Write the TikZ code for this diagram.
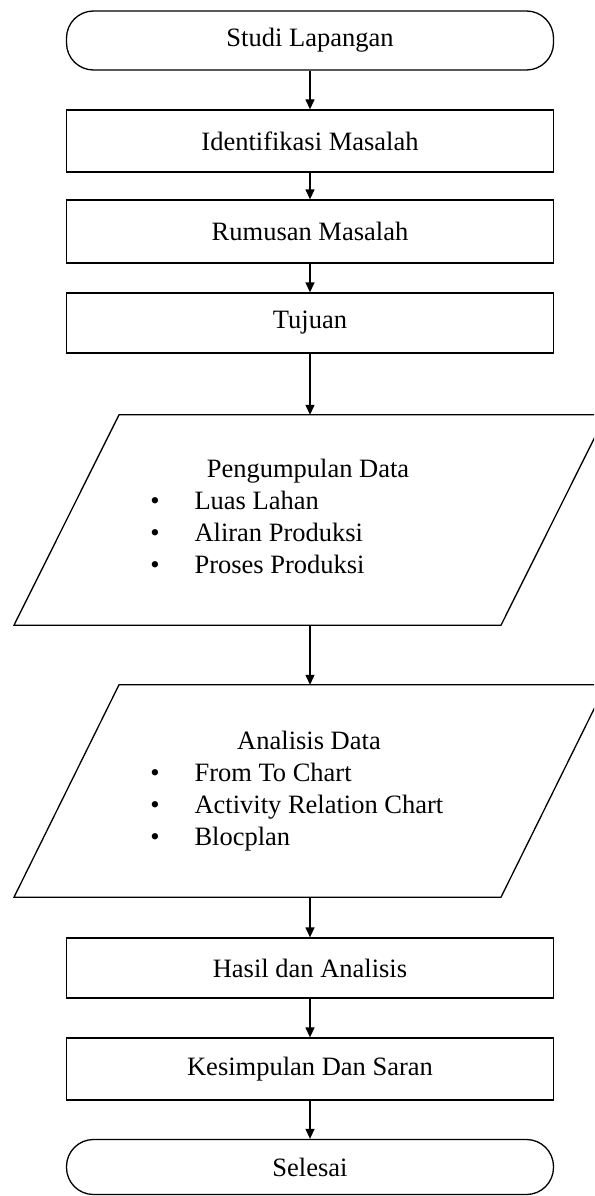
\documentclass[tikz,border=0pt]{standalone}
\usepackage{fontspec}
\setmainfont{Liberation Serif}
\usetikzlibrary{arrows.meta}

\begin{document}
\begin{tikzpicture}[x=1pt, y=-1pt,
    font=\fontsize{26.5}{32}\selectfont,
    proses/.style={draw, line width=1.3pt, minimum width=487pt, minimum height=61pt, inner sep=0pt},
    terminal/.style={proses, rounded corners=27pt, minimum height=59pt},
    data/.style={minimum width=487pt, inner sep=0pt},
    panah/.style={line width=1.3pt, -{Triangle[length=10pt, width=9pt]}},
    butir/.style={anchor=base west},
    titik/.style={anchor=base}]

    \useasboundingbox (0,0) rectangle (594,1196);
    \clip (0,0) rectangle (594,1196);

    \node[terminal] (mulai) at (310,40.5) {Studi Lapangan};
    \node[proses, minimum height=62pt] (identifikasi) at (310,141) {Identifikasi Masalah};
    \node[proses, minimum height=63pt] (rumusan) at (310,231.5) {Rumusan Masalah};
    \node[proses, minimum height=60pt] (tujuan) at (310,323) {Tujuan};
    \node[data, minimum height=210pt] (kumpul) at (310,520) {};
    \node[data, minimum height=212pt] (analisis) at (310,791) {};
    \node[proses, minimum height=60pt] (hasil) at (310,968) {Hasil dan Analisis};
    \node[proses, minimum height=62pt] (simpulan) at (310,1069) {Kesimpulan Dan Saran};
    \node[terminal, minimum height=55pt] (selesai) at (310,1167) {Selesai};

    % jajaran genjang input data
    \foreach \n in {kumpul, analisis}
      \draw[line width=1.3pt] ([xshift=-296pt]\n.south) -- ([xshift=191pt]\n.south)
        -- ([xshift=296pt]\n.north) -- ([xshift=-191pt]\n.north) -- cycle;

    \node[anchor=base] (judulkumpul) at (308,477) {Pengumpulan Data};
    \foreach \teks [count=\i] in {Luas Lahan, Aliran Produksi, Proses Produksi} {
      \node[titik] (tk\i) at (155,477+32*\i) {\textbullet};
      \node[butir] (kumpul\i) at (191,477+32*\i) {\teks};
    }

    \node[anchor=base] (judulanalisis) at (309,749) {Analisis Data};
    \foreach \teks [count=\i] in {From To Chart, Activity Relation Chart, Blocplan} {
      \node[titik] (ta\i) at (155,749+32*\i) {\textbullet};
      \node[butir] (analisis\i) at (191,749+32*\i) {\teks};
    }

    \draw[panah] (mulai) -- (identifikasi);
    \draw[panah] (identifikasi) -- (rumusan);
    \draw[panah] (rumusan) -- (tujuan);
    \draw[panah] (tujuan) -- (kumpul);
    \draw[panah] (kumpul) -- (analisis);
    \draw[panah] (analisis) -- (hasil);
    \draw[panah] (hasil) -- (simpulan);
    \draw[panah] (simpulan) -- (selesai);
  \end{tikzpicture}
\end{document}
